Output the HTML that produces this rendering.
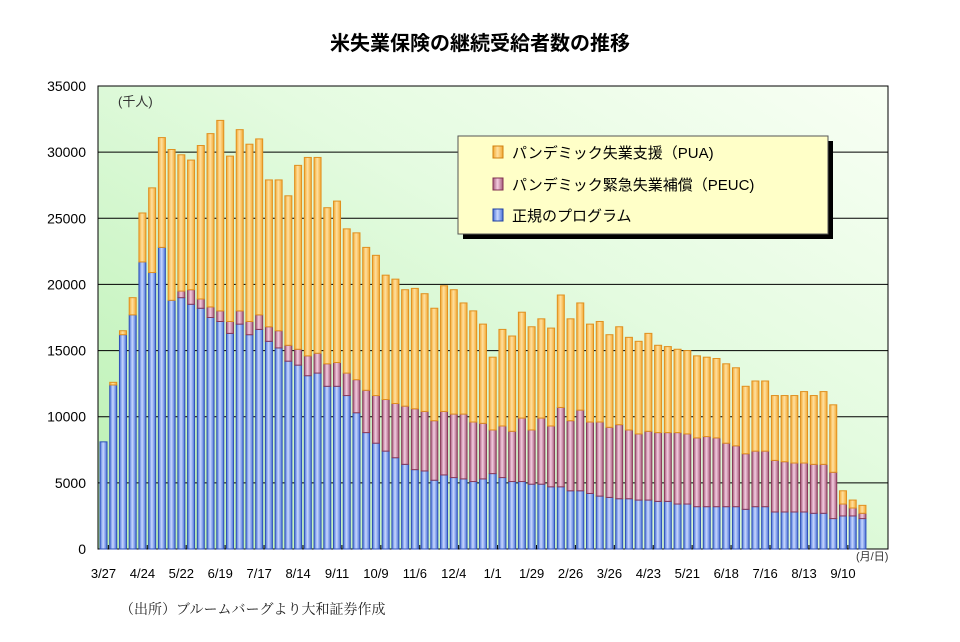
<!DOCTYPE html>
<html><head><meta charset="utf-8"><style>
body{margin:0;background:#fff;width:960px;height:637px;overflow:hidden;font-family:"Liberation Sans","Noto Sans CJK JP",sans-serif}
</style></head><body>
<svg id="chart" width="960" height="637" xmlns="http://www.w3.org/2000/svg">
<defs>
<linearGradient id="bg" x1="0" y1="1" x2="1" y2="0"><stop offset="0" stop-color="#b8f0b0"/><stop offset="0.6" stop-color="#e4fbe0"/><stop offset="1" stop-color="#f8fff4"/></linearGradient>
<linearGradient id="gB" x1="0" x2="1"><stop offset="0" stop-color="#4a72d8"/><stop offset="0.45" stop-color="#c8d8ff"/><stop offset="1" stop-color="#4a72d8"/></linearGradient>
<linearGradient id="gP" x1="0" x2="1"><stop offset="0" stop-color="#a45a7a"/><stop offset="0.45" stop-color="#f4cce0"/><stop offset="1" stop-color="#a45a7a"/></linearGradient>
<linearGradient id="gO" x1="0" x2="1"><stop offset="0" stop-color="#f3a830"/><stop offset="0.45" stop-color="#ffe0a0"/><stop offset="1" stop-color="#f3a830"/></linearGradient>
</defs>
<text x="480" y="50" text-anchor="middle" font-size="20" font-weight="bold" fill="#000">米失業保険の継続受給者数の推移</text>
<rect x="98" y="86" width="790" height="463" fill="url(#bg)" stroke="#000" stroke-width="1"/>
<g id="grid"></g><g id="bars"></g><g id="axes"></g>
<text x="118" y="106" font-size="13" fill="#333">(千人)</text>
<text x="856" y="560" font-size="11" fill="#333">(月/日)</text>
<g>
<rect x="463" y="141" width="370" height="98" fill="#000"/>
<rect x="458" y="136" width="370" height="98" fill="#ffffc8" stroke="#555"/>
<rect x="493" y="146" width="10" height="12" fill="url(#gO)" stroke="#d08010"/>
<text x="512" y="158" font-size="15">パンデミック失業支援（PUA)</text>
<rect x="493" y="178" width="10" height="12" fill="url(#gP)" stroke="#803050"/>
<text x="512" y="190" font-size="15">パンデミック緊急失業補償（PEUC)</text>
<rect x="493" y="209" width="10" height="12" fill="url(#gB)" stroke="#2040a0"/>
<text x="512" y="221" font-size="15">正規のプログラム</text>
</g>
<text x="120" y="614" font-size="14" font-family="'Liberation Serif','Noto Serif CJK SC',serif" fill="#222">（出所）ブルームバーグより大和証券作成</text>
</svg>
<script>
const regular=[8100,12400,16200,17700,21700,20900,22800,18800,19000,18500,18200,17500,17200,16300,17000,16200,16600,15700,15200,14200,13900,13100,13300,12300,12300,11600,10300,8800,8000,7400,6900,6400,6000,5900,5200,5600,5400,5300,5100,5300,5700,5400,5100,5100,4900,4900,4700,4700,4400,4400,4200,4000,3900,3800,3800,3700,3700,3600,3600,3400,3400,3200,3200,3200,3200,3200,3000,3200,3200,2800,2800,2800,2800,2700,2700,2300,2500,2500,2300];
const peucTop=[8100,12400,16200,17700,21700,20900,22800,18800,19500,19600,18900,18300,18000,17200,18000,17200,17700,16800,16500,15400,15100,14600,14800,14000,14100,13300,12800,12000,11600,11300,11000,10800,10600,10400,9700,10400,10200,10200,9600,9500,9000,9300,8900,9900,9000,9900,9300,10700,9700,10500,9600,9600,9200,9400,9000,8700,8900,8800,8800,8800,8700,8400,8500,8400,8000,7800,7200,7400,7400,6700,6600,6500,6500,6400,6400,5800,3400,3100,2700];
const total=[8100,12600,16500,19000,25400,27300,31100,30200,29800,29400,30500,31400,32400,29700,31700,30600,31000,27900,27900,26700,29000,29600,29600,25800,26300,24200,23900,22800,22200,20700,20400,19600,19700,19300,18200,19900,19600,18600,18000,17000,14500,16600,16100,17900,16800,17400,16700,19200,17400,18600,17000,17200,16200,16800,16000,15700,16300,15400,15300,15100,15000,14600,14500,14400,14000,13700,12300,12700,12700,11600,11600,11600,11900,11600,11900,10900,4400,3700,3300];
const yTicks=[0,5000,10000,15000,20000,25000,30000,35000];
const xLabels=["3/27","4/24","5/22","6/19","7/17","8/14","9/11","10/9","11/6","12/4","1/1","1/29","2/26","3/26","4/23","5/21","6/18","7/16","8/13","9/10"];
const NS='http://www.w3.org/2000/svg';
const X0=98,X1=888,Y0=549,Y1=86,step=9.73,bw=7;
const y=v=>Y0-(v/35000)*(Y0-Y1);
const xc=i=>103.5+i*step;
function mk(tag,attrs,parent){const e=document.createElementNS(NS,tag);for(const k in attrs)e.setAttribute(k,attrs[k]);parent.appendChild(e);return e;}
const grid=document.getElementById('grid'),bars=document.getElementById('bars'),axes=document.getElementById('axes');
yTicks.forEach(t=>{
 if(t>0&&t<35000){const l=mk('line',{x1:X0,x2:X1,y1:y(t),y2:y(t),stroke:'#000','stroke-width':1},grid);
 
 }
 const tx=mk('text',{x:86,y:y(t)+5,'text-anchor':'end','font-size':14,fill:'#000'},axes);tx.textContent=t;
 
 
});
function seg(i,lo,hi,fill,stroke,name){
 if(hi-lo<=0)return;
 const r=mk('rect',{x:xc(i)-bw/2,y:y(hi),width:bw,height:y(lo)-y(hi),fill:fill,stroke:stroke,'stroke-width':1},bars);
 
 
}
regular.forEach((r,i)=>{
 seg(i,0,r,'url(#gB)','#3050b8','bar-regular');
 seg(i,r,peucTop[i],'url(#gP)','#8a3a5a','bar-peuc');
 seg(i,peucTop[i],total[i],'url(#gO)','#e09020','bar-pua');
});
xLabels.forEach((s,k)=>{
 const i=k*4;
 const tx=mk('text',{x:xc(i),y:578,'text-anchor':'middle','font-size':13,fill:'#000'},axes);tx.textContent=s;
 
 
 const tk=mk('line',{x1:xc(i)+step/2,x2:xc(i)+step/2,y1:Y0,y2:Y0-4,stroke:'#000'},axes);
 
 
});
</script>
</body></html>
